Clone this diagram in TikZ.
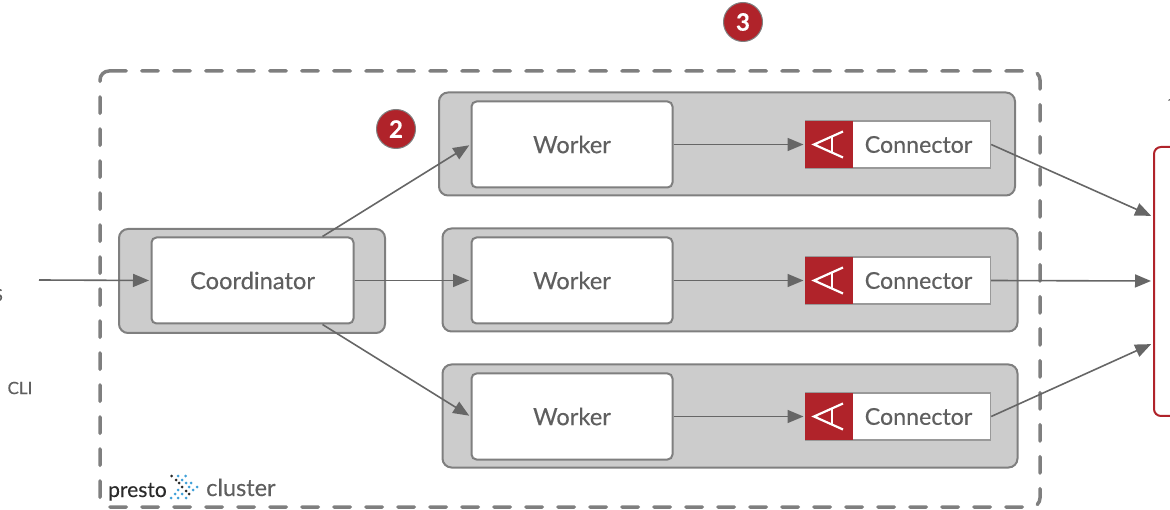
\documentclass[tikz,border=0pt]{standalone}
\usepackage{fontspec}
\setmainfont[FakeBold=0.25]{Lato}
\usetikzlibrary{arrows.meta}
\definecolor{edgegray}{HTML}{7F7F7F}
\definecolor{linegray}{HTML}{666666}
\definecolor{txtgray}{HTML}{5F5F5F}
\definecolor{panelgray}{HTML}{CCCCCC}
\definecolor{brick}{HTML}{B0232A}
\definecolor{logoblue}{HTML}{3FA0D8}
\definecolor{logodark}{HTML}{2A2A2A}
\tikzset{
  panel/.style={draw=edgegray,fill=panelgray,line width=2pt,rounded corners=9pt,inner sep=0pt},
  unit/.style={draw=edgegray,fill=white,line width=2pt,rounded corners=5pt,inner sep=0pt,text=txtgray,font=\fontsize{23.7}{28}\selectfont},
  connbox/.style={draw=edgegray!80,fill=white,line width=1.2pt,inner sep=0pt,minimum width=185pt,minimum height=47pt,anchor=west},
  connred/.style={fill=brick,inner sep=0pt,minimum width=48pt,minimum height=47pt,anchor=west},
  conntext/.style={text=txtgray,font=\fontsize{23.2}{28}\selectfont,inner sep=0pt},
  badge/.style={circle,fill=brick,draw=edgegray,line width=1pt,minimum size=39pt,inner sep=0pt,text=white,font=\bfseries\fontsize{24}{28}\selectfont},
  conn/.style={draw=linegray,line width=1.6pt,shorten >=1.5pt,-{Triangle[length=16pt,width=13pt]}},
}
\begin{document}
\begin{tikzpicture}[x=1pt,y=-1pt]
\useasboundingbox (0,0) rectangle (1170,510);
\draw[edgegray,line width=3.5pt,rounded corners=9pt,line cap=round,dash pattern=on 16.5pt off 15.5pt] (109.75,71) -- (1040,71) -- (1040,507) -- (100,507) -- (100,71) -- (109.75,71);
\node[panel,minimum width=266pt,minimum height=104pt] (cp) at (252,281) {};
\node[panel,minimum width=576pt,minimum height=103pt] (w1p) at (727,144) {};
\node[panel,minimum width=575pt,minimum height=103pt] (w2p) at (730,280) {};
\node[panel,minimum width=575pt,minimum height=103pt] (w3p) at (730,416) {};
\node[unit,minimum width=202pt,minimum height=86pt] (coord) at (252.5,280.5) {Coordinator};
\node[unit,minimum width=201pt,minimum height=86pt] (w1) at (572,144.5) {Worker};
\node[unit,minimum width=201pt,minimum height=86pt] (w2) at (572,280.5) {Worker};
\node[unit,minimum width=201pt,minimum height=86pt] (w3) at (572,416.5) {Worker};
\foreach \n/\y in {1/144.5,2/280.5,3/416.5}{
  \node[connbox] (c\n) at (805,\y) {};
  \node[connred] (r\n) at (805,\y) {};
  \node[conntext] (t\n) at (918.5,\y) {Connector};
  \draw[white,line width=2.2pt,line join=miter] ([xshift=38pt,yshift=-13pt]r\n.west) -- ([xshift=9pt,yshift=0pt]r\n.west) -- ([xshift=38pt,yshift=13pt]r\n.west);
  \draw[white,line width=2pt] ([xshift=27pt,yshift=-8pt]r\n.west) -- ([xshift=27pt,yshift=8pt]r\n.west);
}
\node[badge] (b2) at (396,129) {2};
\node[badge] (b3) at (743,22) {3};
\node[text=txtgray,font=\fontsize{17}{20}\selectfont,inner sep=0pt] (cli) at (20,388) {CLI};
\node[text=txtgray,font=\fontsize{17}{20}\selectfont,inner sep=0pt,anchor=east] (frag) at (3,295) {S};
\node[text=logodark,font=\fontsize{21}{26}\selectfont,inner sep=0pt,anchor=base west] (prs) at (108,497) {presto};
\node[text=txtgray,font=\fontsize{23.5}{26}\selectfont,inner sep=0pt,anchor=base west] (clu) at (206,496) {cluster};
\foreach \x/\y in {171.7/476,176/480,179/483,182/487,186/491,189/494}
  \fill[logodark] (\x,\y) circle (1.5pt);
\foreach \x/\y in {178/476,185.7/476,182/480,186/483,191/483,189/487,197/487,193/490,178/490,182/494,175/494,186/498,178/498,171/498}
  \fill[logoblue] (\x,\y) circle (1.5pt);
\coordinate (src) at (39,280);
\coordinate (db1) at (1152.5,216.5);
\coordinate (db2) at (1152.5,281);
\coordinate (db3) at (1152.5,343.5);
\draw[brick,line width=2pt,rounded corners=7pt] (1180,147) -- (1154,147) -- (1154,416) -- (1180,416);
\draw[txtgray,line width=1pt] (1168.5,100.5) -- (1170,99.5);
\draw[conn] (src) -- (coord.west);
\draw[conn] (coord.east) -- (w2.west);
\draw[conn] ([xshift=70pt]coord.north) -- (w1.west);
\draw[conn] ([xshift=70pt]coord.south) -- (w3.west);
\foreach \n in {1,2,3}{\draw[conn] (w\n.east) -- (r\n.west);}
\draw[conn] (c1.east) -- (db1);
\draw[conn] (c2.east) -- (db2);
\draw[conn] (c3.east) -- (db3);
\end{tikzpicture}
\end{document}
